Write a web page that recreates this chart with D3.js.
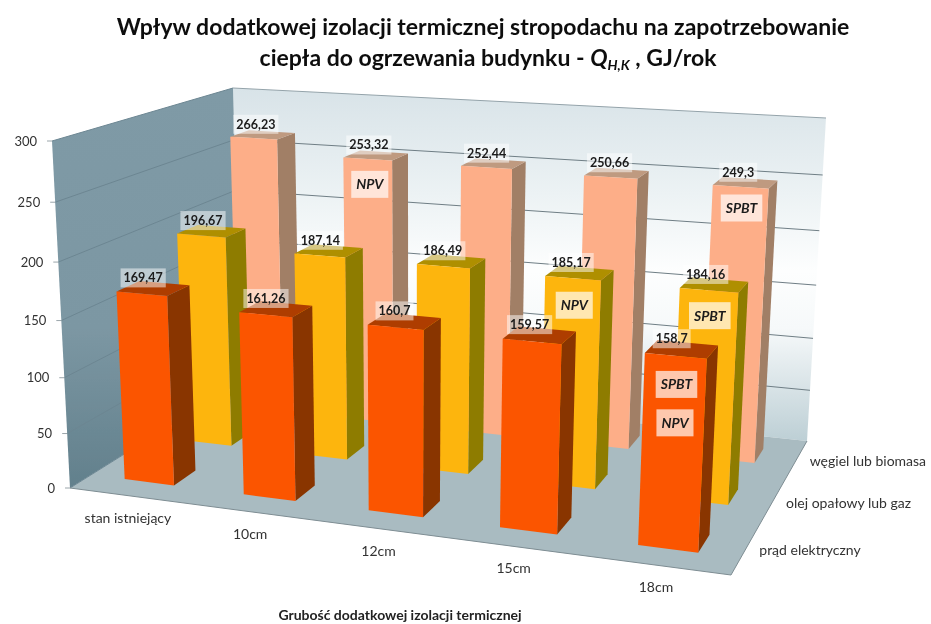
<!DOCTYPE html>
<html>
<head>
<meta charset="utf-8">
<script src="https://cdn.jsdelivr.net/npm/d3@7"></script>
<style>
  body { margin: 0; background: #fff; }
  text { font-family: Lato, "Open Sans", sans-serif; }
</style>
</head>
<body>
<div id="chart"></div>
<script>
// Data
const categories = ["stan istniejący", "10cm", "12cm", "15cm", "18cm"];
const seriesNames = ["prąd elektryczny", "olej opałowy lub gaz", "węgiel lub biomasa"];
const pradValues = [169.47, 161.26, 160.7, 159.57, 158.7];
const olejValues = [196.67, 187.14, 186.49, 185.17, 184.16];
const weglValues = [266.23, 253.32, 252.44, 250.66, 249.3];
const seriesValues = [pradValues, olejValues, weglValues];

// Notes written on the bars: category, series, height on the bar, text
const noteCats = [1, 4, 3, 4, 4, 4];
const noteSeries = [2, 2, 1, 1, 0, 0];
const noteHeights = [230, 231, 162, 163, 136, 105];
const noteTexts = ["NPV", "SPBT", "NPV", "SPBT", "SPBT", "NPV"];

const colors = [
  {front: "#FB5500", side: "#893400", top: "#AE3E00"},
  {front: "#FDB50E", side: "#8E7C02", top: "#AF8F05"},
  {front: "#FDAE88", side: "#A17F66", top: "#BF9A80"}
];

const width = 931, height = 624;

const svg = d3.select("#chart")
  .append("svg")
    .attr("width", width)
    .attr("height", height);

const defs = svg.append("defs");

const wallGrad = defs.append("linearGradient")
    .attr("id", "wallGrad").attr("x1", 0).attr("y1", 0).attr("x2", 0).attr("y2", 1);
[[0, "#D8E3E8"], [0.3, "#ECF2F4"], [0.52, "#FDFEFE"], [0.68, "#F6F9FA"], [1, "#BDCFD5"]].forEach(s => {
  wallGrad.append("stop").attr("offset", s[0]).attr("stop-color", s[1]);
});

const sideGrad = defs.append("linearGradient")
    .attr("id", "sideGrad").attr("x1", 0).attr("y1", 0).attr("x2", 0).attr("y2", 1);
[[0, "#7F9AA6"], [0.6, "#7C97A3"], [1, "#62808C"]].forEach(s => {
  sideGrad.append("stop").attr("offset", s[0]).attr("stop-color", s[1]);
});

// Soft look of the scanned picture
defs.append("filter").attr("id", "soft")
    .attr("filterUnits", "userSpaceOnUse")
    .attr("x", 0).attr("y", 0).attr("width", width).attr("height", height)
  .append("feGaussianBlur").attr("stdDeviation", 0.6);

const root = svg.append("g").attr("filter", "url(#soft)");

// Homography from the unit square to a quad (front-left, front-right, back-right, back-left)
function quadMap(q) {
  const [p0, p1, p2, p3] = q;
  const dx1 = p1[0] - p2[0], dx2 = p3[0] - p2[0], sx = p0[0] - p1[0] + p2[0] - p3[0];
  const dy1 = p1[1] - p2[1], dy2 = p3[1] - p2[1], sy = p0[1] - p1[1] + p2[1] - p3[1];
  const den = dx1 * dy2 - dx2 * dy1;
  const g = (sx * dy2 - dx2 * sy) / den, h = (dx1 * sy - sx * dy1) / den;
  const a = p1[0] - p0[0] + g * p1[0], b = p3[0] - p0[0] + h * p3[0];
  const d = p1[1] - p0[1] + g * p1[1], e = p3[1] - p0[1] + h * p3[1];
  return (u, v) => {
    const w = g * u + h * v + 1;
    return [(a * u + b * v + p0[0]) / w, (d * u + e * v + p0[1]) / w];
  };
}

const floorMap = quadMap([[70, 488], [731, 575], [807, 441], [241, 381]]);
const ceilMap = quadMap([[52, 141], [750, 185], [826, 118], [233, 88]]);

// Scales: x along the categories, z in depth, y up
const x = d3.scaleBand().domain(d3.range(categories.length)).range([0, 1])
    .paddingInner(0.58).paddingOuter(0.29);
const z = d3.scaleBand().domain(d3.range(seriesNames.length)).range([0, 1])
    .paddingInner(0.64).paddingOuter(0.32);
const y = d3.scaleLinear().domain([0, 300]).range([0, 1]);

function project(u, v, value) {
  const a = floorMap(u, v), b = ceilMap(u, v), h = y(value);
  // heights grow a little towards the top, the camera looks down
  const t = h - 0.07 * h * (1 - h);
  return [a[0] + (b[0] - a[0]) * t, a[1] + (b[1] - a[1]) * t];
}

const line = d3.line();
const poly = pts => line(pts) + "Z";

// Walls and floor
root.append("path").attr("fill", "url(#wallGrad)")
    .attr("d", poly([project(0, 1, 0), project(1, 1, 0), project(1, 1, 300), project(0, 1, 300)]));
root.append("path").attr("fill", "url(#sideGrad)")
    .attr("d", poly([project(0, 0, 0), project(0, 1, 0), project(0, 1, 300), project(0, 0, 300)]));
root.append("path").attr("fill", "#A9BBC1")
    .attr("d", poly([project(0, 0, 0), project(1, 0, 0), project(1, 1, 0), project(0, 1, 0)]));

// Grid lines on the two walls, with ticks and labels
y.ticks(6).forEach(t => {
  root.append("path").attr("fill", "none").attr("stroke", "#6C8692").attr("stroke-width", 1)
      .attr("d", line([project(0, 0, t), project(0, 1, t)]));
  if (t > 0) {
    root.append("path").attr("fill", "none")
        .attr("stroke", t === 300 ? "#94A3AA" : "#6F7E85").attr("stroke-width", 1)
        .attr("d", line([project(0, 1, t), project(1, 1, t)]));
  }
  const p = project(0, 0, t);
  root.append("path").attr("fill", "none").attr("stroke", "#9AA5AA")
      .attr("d", line([[p[0] - 5, p[1]], p]));
  root.append("text")
      .attr("x", p[0] - 15)
      .attr("y", p[1])
      .attr("dy", ".35em")
      .attr("text-anchor", "end")
      .attr("font-size", 13)
      .attr("fill", "#333")
      .text(t);
});

// Front edge of the floor and the right edge
root.append("path").attr("fill", "none").attr("stroke", "#7E8D93")
    .attr("d", line([project(0, 0, 0), project(1, 0, 0), project(1, 1, 0)]));

// Bars, back row first
d3.range(seriesNames.length).reverse().forEach(s => {
  const z0 = z(s), z1 = z0 + z.bandwidth();
  categories.forEach((c, i) => {
    const x0 = x(i), x1 = x0 + x.bandwidth(), val = seriesValues[s][i];
    const g = root.append("g");
    g.append("path").attr("fill", colors[s].side)
        .attr("d", poly([project(x1, z0, 0), project(x1, z1, 0), project(x1, z1, val), project(x1, z0, val)]));
    g.append("path").attr("fill", colors[s].top)
        .attr("d", poly([project(x0, z0, val), project(x1, z0, val), project(x1, z1, val), project(x0, z1, val)]));
    g.append("path").attr("fill", colors[s].front)
        .attr("d", poly([project(x0, z0, 0), project(x1, z0, 0), project(x1, z0, val), project(x0, z0, val)]));
  });
});

// Value labels and notes go on top of every bar
function boxedText(cx, cy, str, opts) {
  const g = root.append("g");
  const rect = g.append("rect").attr("fill", "#fff").attr("fill-opacity", opts.opacity);
  const t = g.append("text")
      .attr("x", cx).attr("y", cy).attr("dy", ".35em")
      .attr("text-anchor", "middle")
      .attr("font-size", opts.size)
      .attr("font-weight", "bold")
      .attr("font-style", opts.italic ? "italic" : "normal")
      .attr("fill", "#1A1A1A")
      .text(str);
  const w = t.node().getComputedTextLength();
  rect.attr("x", cx - w / 2 - opts.padX).attr("y", cy - opts.h / 2)
      .attr("width", w + opts.padX * 2).attr("height", opts.h);
}

d3.range(seriesNames.length).reverse().forEach(s => {
  categories.forEach((c, i) => {
    const val = seriesValues[s][i];
    const p = project(x(i) + x.bandwidth() / 2, z(s) + z.bandwidth() / 2, val);
    boxedText(p[0] - 10 + 1.5 * s, p[1] - 10.5, String(val).replace(".", ","),
      {size: 12.5, opacity: 0.5, padX: 3, h: 19});
  });
});

noteTexts.forEach((str, k) => {
  const p = project(x(noteCats[k]) + x.bandwidth() / 2, z(noteSeries[k]), noteHeights[k]);
  boxedText(p[0] + 2, p[1], str, {size: 14, opacity: 0.68, padX: 5, h: 27, italic: true});
});

// Category labels under the front edge
categories.forEach((c, i) => {
  const p = project(x(i) + x.bandwidth() / 2, 0, 0);
  root.append("text")
      .attr("x", p[0] - 1)
      .attr("y", p[1] + 22)
      .attr("dy", ".35em")
      .attr("text-anchor", "middle")
      .attr("font-size", 14)
      .attr("fill", "#333")
      .text(c);
});

// Series labels along the right edge
seriesNames.forEach((n, s) => {
  const p = project(1, z(s) + z.bandwidth() / 2, 0);
  root.append("text")
      .attr("x", p[0] + 13.5)
      .attr("y", p[1] + 1)
      .attr("dy", ".35em")
      .attr("font-size", 14)
      .attr("fill", "#333")
      .text(n);
});

// Axis title
root.append("text")
    .attr("x", 400)
    .attr("y", 615)
    .attr("dy", ".35em")
    .attr("text-anchor", "middle")
    .attr("font-size", 14)
    .attr("font-weight", "bold")
    .attr("fill", "#222")
    .text("Grubość dodatkowej izolacji termicznej");

// Title
const title = root.append("text")
    .attr("text-anchor", "middle")
    .attr("font-size", 23)
    .attr("font-weight", "bold")
    .attr("fill", "#111");
title.append("tspan").attr("x", 483).attr("y", 35)
    .text("Wpływ dodatkowej izolacji termicznej stropodachu na zapotrzebowanie");
const line2 = title.append("tspan").attr("x", 488).attr("y", 66);
line2.append("tspan").text("ciepła do ogrzewania budynku - ");
line2.append("tspan").attr("font-style", "italic").text("Q");
line2.append("tspan").attr("font-style", "italic").attr("font-size", 14).attr("dy", 4).text("H,K");
line2.append("tspan").attr("dy", -4).text(" , GJ/rok");
</script>
</body>
</html>
